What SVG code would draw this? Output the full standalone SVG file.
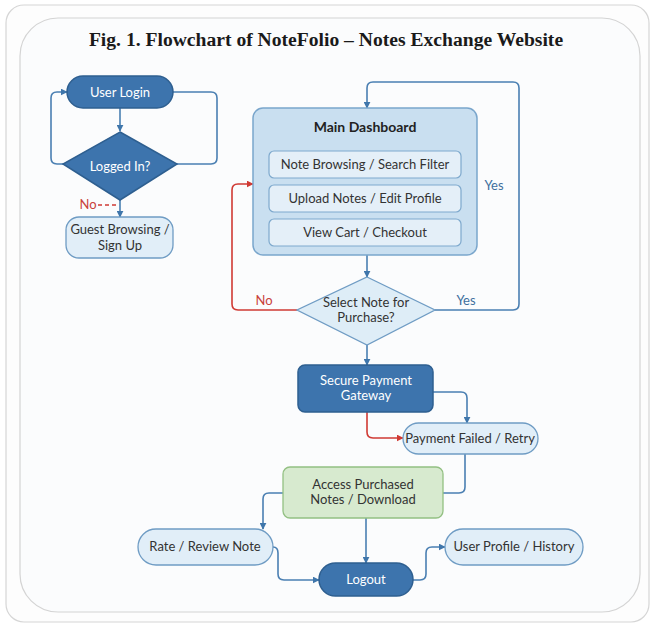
<svg xmlns="http://www.w3.org/2000/svg" width="651" height="628" viewBox="0 0 651 628">
<defs>
<marker id="ab" viewBox="0 0 10 10" refX="9" refY="5" markerWidth="7" markerHeight="7" orient="auto" markerUnits="userSpaceOnUse"><path d="M0,0 L10,5 L0,10 z" fill="#3f76ab"/></marker>
<marker id="ar" viewBox="0 0 10 10" refX="9" refY="5" markerWidth="7" markerHeight="7" orient="auto" markerUnits="userSpaceOnUse"><path d="M0,0 L10,5 L0,10 z" fill="#d03a34"/></marker>
</defs>
<style>
.t{font-family:Lato,"Liberation Sans",sans-serif;font-size:13px;fill:#333;text-anchor:middle}
.w{fill:#fff}
.dark{fill:#3d74ad;stroke:#2e5f90;stroke-width:1.5}
.light{fill:#e1eef8;stroke:#6f9cc4;stroke-width:1.3}
.c{fill:none;stroke:#4a7fb2;stroke-width:1.6}
.r{fill:none;stroke:#d03a34;stroke-width:1.6}
.lb{font-family:Lato,"Liberation Sans",sans-serif;font-size:13px;fill:#3f6f9e;text-anchor:middle}
.lr{font-family:Lato,"Liberation Sans",sans-serif;font-size:13px;fill:#c9423c;text-anchor:middle}
</style>
<rect x="0" y="0" width="651" height="628" fill="#ffffff"/>
<rect x="6" y="5" width="643" height="617" rx="18" fill="#fdfdfd" stroke="#d6d6d6" stroke-width="1.2"/>
<rect x="20" y="18" width="620" height="594" rx="38" fill="#fbfcfd" stroke="#d4d4d4" stroke-width="1.2"/>
<text x="326" y="46" font-family="'Liberation Serif',serif" font-weight="bold" font-size="19.6" fill="#1a1a1a" text-anchor="middle">Fig. 1. Flowchart of NoteFolio – Notes Exchange Website</text>

<g id="connectors">
<path class="c" d="M120,108 V131" marker-end="url(#ab)"/>
<path class="c" d="M63,164 H57 Q51,164 51,158 V98 Q51,92 57,92 H67" marker-end="url(#ab)"/>
<path class="c" d="M173,92 H211 Q217,92 217,98 V158 Q217,164 211,164 H177"/>
<path class="c" d="M120,200 V217" marker-end="url(#ab)"/>
<path class="r" d="M98,205 H118" stroke-dasharray="4,3"/>
<path class="c" d="M367,255 V277" marker-end="url(#ab)"/>
<path class="c" d="M435,310 H513 Q519,310 519,304 V88 Q519,82 513,82 H373 Q367,82 367,88 V108" marker-end="url(#ab)"/>
<path class="r" d="M297,310 H238 Q232,310 232,304 V190 Q232,184 238,184 H253" marker-end="url(#ar)"/>
<path class="c" d="M367,345 V365" marker-end="url(#ab)"/>
<path class="c" d="M433,392 H461 Q467,392 467,398 V423" marker-end="url(#ab)"/>
<path class="r" d="M367,412 V432 Q367,438 373,438 H403" marker-end="url(#ar)"/>
<path class="c" d="M465,454 V487 Q465,493 459,493 H443"/>
<path class="c" d="M283,493 H269 Q263,493 263,499 V529" marker-end="url(#ab)"/>
<path class="c" d="M366,518 V563" marker-end="url(#ab)"/>
<path class="c" d="M273,547 Q278,547 278,553 V574 Q278,580 284,580 H319" marker-end="url(#ab)"/>
<path class="c" d="M413,580 H420 Q426,580 426,574 V553 Q426,547 432,547 H445" marker-end="url(#ab)"/>
<text class="lr" x="88" y="209">No</text>
<text class="lb" x="494" y="190">Yes</text>
<text class="lb" x="466" y="305">Yes</text>
<text class="lr" x="264" y="305">No</text>
</g>

<g id="user-login">
<rect class="dark" x="67" y="76" width="106" height="32" rx="16"/>
<text class="t w" x="120" y="97">User Login</text>
</g>
<g id="logged-in">
<polygon class="dark" points="120,132 177,164 120,200 63,164"/>
<text class="t w" x="120" y="171">Logged In?</text>
</g>
<g id="guest-browsing">
<rect class="light" x="66" y="217" width="107" height="41" rx="13"/>
<text class="t" x="120" y="234">Guest Browsing /</text>
<text class="t" x="120" y="250">Sign Up</text>
</g>

<g id="main-dashboard">
<rect x="253" y="108" width="224" height="147" rx="10" fill="#c9dff0" stroke="#7aa6cc" stroke-width="1.5"/>
<text x="365" y="132" font-family="Lato,'Liberation Sans',sans-serif" font-size="14" font-weight="bold" fill="#222" text-anchor="middle">Main Dashboard</text>
<rect x="269" y="151" width="192" height="27" rx="5" fill="#e4eff8" stroke="#7ea9cd" stroke-width="1.2"/>
<text class="t" x="365" y="169">Note Browsing / Search Filter</text>
<rect x="269" y="185" width="192" height="27" rx="5" fill="#e4eff8" stroke="#7ea9cd" stroke-width="1.2"/>
<text class="t" x="365" y="203">Upload Notes / Edit Profile</text>
<rect x="269" y="219" width="192" height="27" rx="5" fill="#e4eff8" stroke="#7ea9cd" stroke-width="1.2"/>
<text class="t" x="365" y="237">View Cart / Checkout</text>
</g>

<g id="select-note">
<polygon points="367,277 435,310 367,345 297,310" fill="#deedf7" stroke="#6f9cc4" stroke-width="1.3"/>
<text class="t" x="366" y="307">Select Note for</text>
<text class="t" x="366" y="322">Purchase?</text>
</g>

<g id="secure-payment">
<rect class="dark" x="298" y="365" width="135" height="47" rx="7"/>
<text class="t w" x="366" y="385">Secure Payment</text>
<text class="t w" x="366" y="400">Gateway</text>
</g>

<g id="payment-failed">
<rect class="light" x="403" y="423" width="135" height="31" rx="15.5"/>
<text class="t" x="470" y="443">Payment Failed / Retry</text>
</g>

<g id="access-purchased">
<rect x="283" y="467" width="160" height="51" rx="7" fill="#d7eacf" stroke="#93c083" stroke-width="1.3"/>
<text class="t" x="363" y="489">Access Purchased</text>
<text class="t" x="363" y="504">Notes / Download</text>
</g>

<g id="rate-review">
<rect class="light" x="138" y="529" width="135" height="36" rx="18"/>
<text class="t" x="205" y="551">Rate / Review Note</text>
</g>

<g id="logout">
<rect class="dark" x="319" y="563" width="94" height="33" rx="16.5"/>
<text class="t w" x="366" y="584">Logout</text>
</g>

<g id="user-profile">
<rect class="light" x="445" y="529" width="138" height="36" rx="18"/>
<text class="t" x="514" y="551">User Profile / History</text>
</g>
</svg>
